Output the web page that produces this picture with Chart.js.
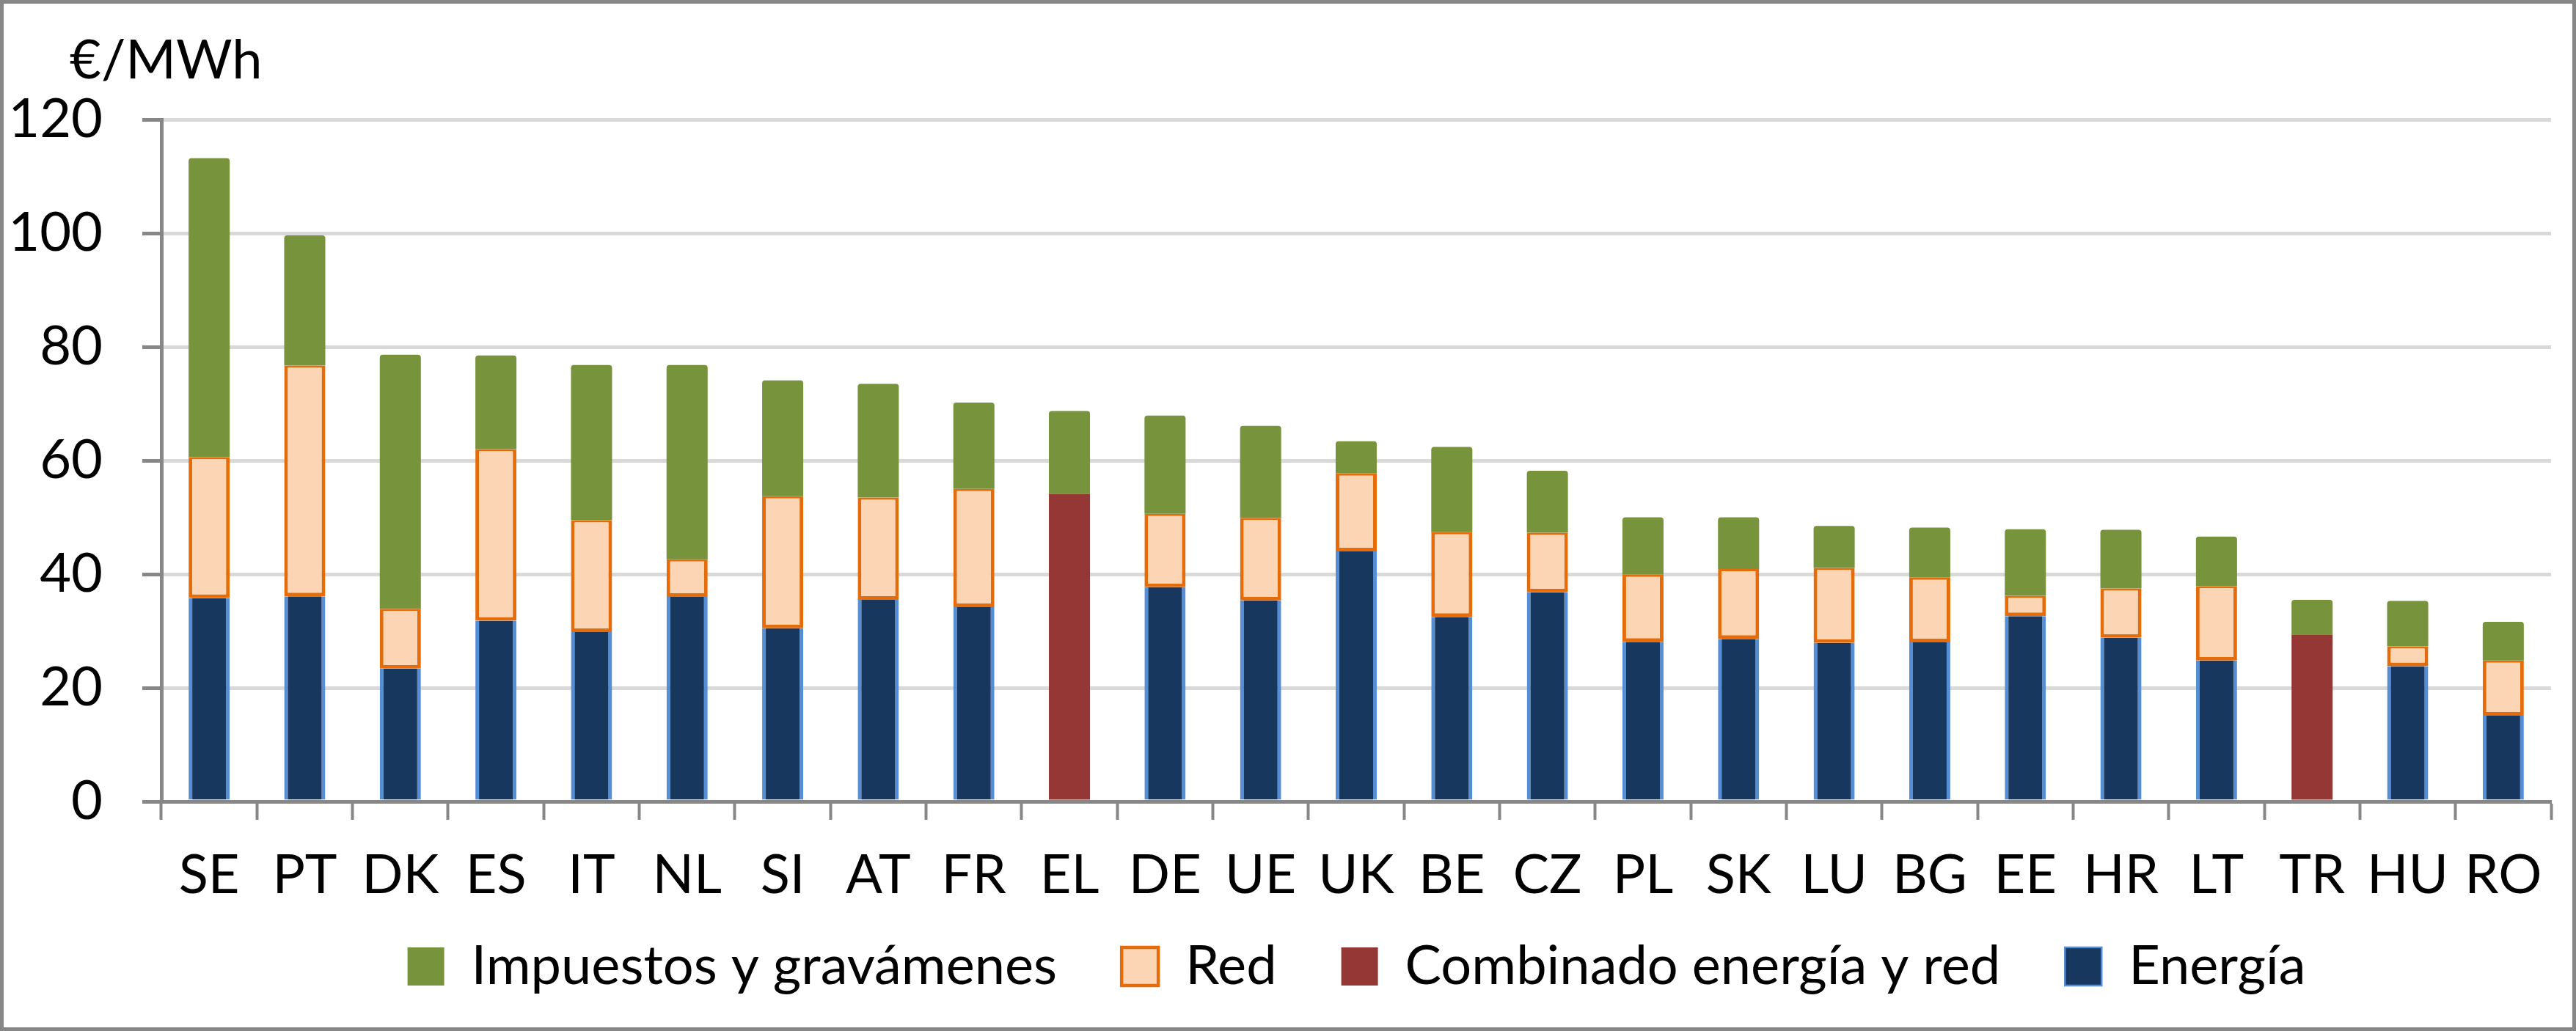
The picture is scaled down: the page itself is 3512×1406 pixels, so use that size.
<!DOCTYPE html>
<html lang="es">
  <head>
    <meta charset="UTF-8" />
    <title>Precio electricidad</title>
    <script src="https://cdn.jsdelivr.net/npm/chart.js@4.4.1/dist/chart.umd.min.js"></script>
    <style>
      html, body { margin: 0; padding: 0; background: #fff; }
      #frame {
        width: 3512px;
        height: 1406px;
        box-sizing: border-box;
        border: 5px solid #878787;
        background: #fff;
      }
      canvas { display: block; }
    </style>
  </head>
  <body>
    <div id="frame">
      <canvas id="myChart" width="3502" height="1396"></canvas>
    </div>

    <script>
      // data (€/MWh)
      var countries = ["SE", "PT", "DK", "ES", "IT", "NL", "SI", "AT", "FR", "EL", "DE", "UE", "UK",
                       "BE", "CZ", "PL", "SK", "LU", "BG", "EE", "HR", "LT", "TR", "HU", "RO"];
      var energia = [35.8, 36.1, 23.4, 31.8, 29.8, 36.0, 30.5, 35.5, 34.2, null, 37.7, 35.4, 44.0,
                     32.5, 36.8, 28.1, 28.6, 27.9, 28.0, 32.6, 28.8, 24.8, null, 23.8, 15.1];
      var red = [24.8, 40.6, 10.5, 30.2, 19.7, 6.6, 23.2, 18.0, 20.8, null, 12.9, 14.5, 13.7,
                 14.9, 10.5, 11.8, 12.3, 13.2, 11.4, 3.6, 8.7, 13.1, null, 3.5, 9.7];
      var combinado = [null, null, null, null, null, null, null, null, null, 54.1, null, null, null,
                       null, null, null, null, null, null, null, null, null, 29.3, null, null];
      var impuestos = [52.6, 22.9, 44.7, 16.5, 27.3, 34.2, 20.4, 20.0, 15.2, 14.6, 17.3, 16.2, 5.7,
                       15.0, 10.9, 10.1, 9.1, 7.4, 8.8, 11.7, 10.3, 8.7, 6.2, 8.0, 6.8];
      var yMin = 0;
      var yMax = 120;
      var yStep = 20;
      var unitLabel = "€/MWh";

      var FONT = "Lato, 'Liberation Sans', sans-serif";

      // unit text above the y axis
      var unitPlugin = {
        id: "unitLabel",
        afterDraw: function (chart) {
          var c = chart.ctx;
          c.save();
          c.font = "74px " + FONT;
          c.fillStyle = "#000";
          c.textAlign = "left";
          c.textBaseline = "alphabetic";
          c.fillText(unitLabel, 90, 102);
          c.restore();
        },
      };

      // legend sits centred under the plot (not the whole canvas) and a bit higher
      var shiftLegend = {
        id: "shiftLegend",
        afterLayout: function (chart) {
          var lg = chart.legend;
          lg.left += 108;
          lg.right += 108;
          lg.top -= 36;
          lg.bottom -= 36;
        },
      };

      var ctx = document.getElementById("myChart").getContext("2d");
      var myChart = new Chart(ctx, {
        type: "bar",
        data: {
          labels: countries,
          datasets: [
            {
              label: "Energía",
              data: energia,
              backgroundColor: "#17375E",
              borderColor: "#558ED5",
              borderWidth: { left: 5, right: 5, top: 0, bottom: 0 },
              borderSkipped: false,
            },
            {
              label: "Combinado energía y red",
              data: combinado,
              backgroundColor: "#953735",
              borderWidth: 0,
            },
            {
              label: "Red",
              data: red,
              backgroundColor: "#FCD5B5",
              borderColor: "#E46C0A",
              borderWidth: { left: 5, right: 5, top: 3, bottom: 5 },
              borderSkipped: false,
            },
            {
              label: "Impuestos y gravámenes",
              data: impuestos,
              backgroundColor: "#77933C",
              borderWidth: 0,
              borderRadius: { topLeft: 4, topRight: 4 },
              borderSkipped: false,
            },
          ],
        },
        options: {
          responsive: false,
          devicePixelRatio: 1,
          animation: false,
          barPercentage: 0.43,
          categoryPercentage: 1,
          layout: {
            padding: { top: 158, right: 29, bottom: 0, left: 0 },
          },
          plugins: {
            tooltip: { enabled: false },
            legend: {
              position: "bottom",
              reverse: true,
              labels: {
                color: "#000",
                font: { family: FONT, size: 74 },
                boxWidth: 50,
                boxHeight: 52,
                padding: 88,
              },
            },
          },
          scales: {
            x: {
              stacked: true,
              afterFit: function (s) {
                s.height = 136;
              },
              border: { color: "#878787", width: 5 },
              grid: {
                offset: true,
                drawOnChartArea: false,
                drawTicks: true,
                tickLength: 25,
                tickColor: "#878787",
                tickWidth: 4,
              },
              ticks: {
                color: "#000",
                font: { family: FONT, size: 74 },
                padding: 32,
                maxRotation: 0,
                autoSkip: false,
              },
            },
            y: {
              stacked: true,
              min: yMin,
              max: yMax,
              afterFit: function (s) {
                s.width = 215;
              },
              border: { color: "#878787", width: 5 },
              grid: {
                color: "#d9d9d9",
                lineWidth: 5,
                tickColor: "#878787",
                tickWidth: 5,
                tickLength: 26,
              },
              ticks: {
                stepSize: yStep,
                color: "#000",
                font: { family: FONT, size: 74 },
                padding: 54,
              },
            },
          },
        },
        plugins: [unitPlugin, shiftLegend],
      });
    </script>
  </body>
</html>
